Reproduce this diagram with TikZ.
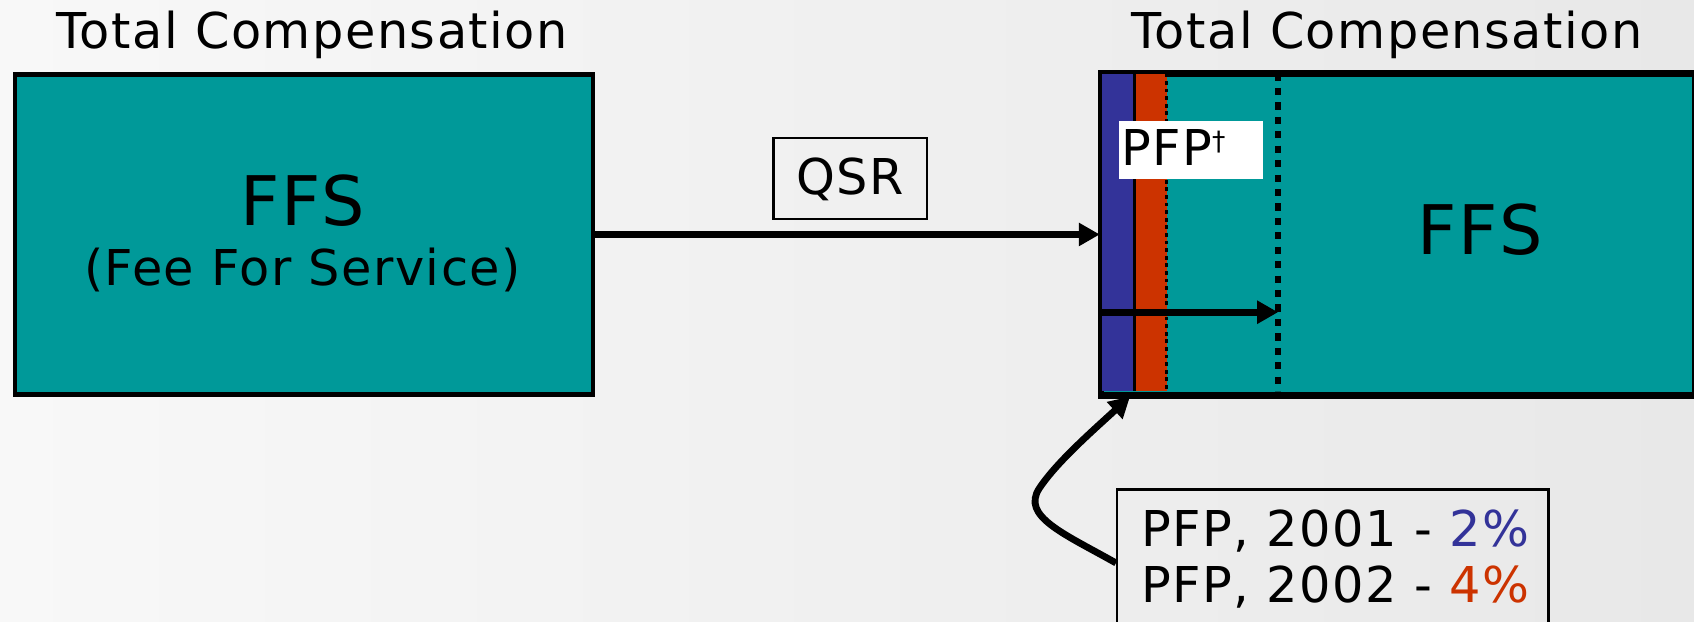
\documentclass[tikz,border=0pt]{standalone}
\usepackage{fontspec}
\setmainfont{DejaVu Sans}[LetterSpace=3]
\usetikzlibrary{arrows.meta}
\definecolor{tealbox}{HTML}{009999}
\definecolor{pfpblue}{HTML}{333399}
\definecolor{pfpred}{HTML}{CC3300}
\definecolor{bgL}{HTML}{F8F8F8}
\definecolor{bgR}{HTML}{E8E8E8}
\tikzset{
  bigbox/.style={draw=black, line width=1.1pt, fill=tealbox, anchor=north west, inner sep=0pt},
  lbl/.style={font=\fontsize{13}{15}\selectfont, anchor=base, inner sep=0pt},
  biglbl/.style={font=\fontsize{18}{20}\selectfont, anchor=base, inner sep=0pt},
  thinbox/.style={draw=black, line width=0.6pt, inner sep=0pt},
  conn/.style={line width=1.8pt, -{Triangle[length=5.5pt,width=5.8pt]}},
  bigdots/.style={line width=1.6pt, dash pattern=on 1.9pt off 1.9pt},
  smalldots/.style={line width=0.7pt, dash pattern=on 1pt off 1pt},
}
\begin{document}
\begin{tikzpicture}[x=0.01cm,y=-0.01cm]
\useasboundingbox (0,0) rectangle (1568,575);
\clip (0,0) rectangle (1568,575);
\shade[left color=bgL,right color=bgR] (0,0) rectangle (1568,575);

% titles
\node[lbl] (titleL) at (289,45) {Total Compensation};
\node[lbl] (titleR) at (1284,45) {Total Compensation};

% left box
\node[bigbox, minimum width=5.35cm, minimum height=2.96cm] (ffsL) at (12,67) {};
\node[biglbl] (ffsLtxt) at (280,209) {FFS};
\node[lbl] (feeTxt) at (280,264) {(Fee For Service)};

% right box
\node[bigbox, minimum width=5.48cm, minimum height=2.96cm] (rbox) at (1018,67) {};
\fill[pfpblue] (1019,68) rectangle (1050,362);
\fill[pfpred] (1050,68) rectangle (1080,362);
\draw[line width=0.9pt] (1050,68) -- (1050,362);
\draw[smalldots] (1080,68) -- (1080,362);
\draw[bigdots] (1183,68) -- (1183,362);
\draw[line width=1.1pt] (rbox.north west) rectangle (rbox.south east);
\node[biglbl] (ffsRtxt) at (1370,236) {FFS};

% PFP dagger label
\node[fill=white, anchor=north west, minimum width=1.33cm, minimum height=0.54cm, inner sep=0pt] (pfpbox) at (1035,111) {};
\node[lbl, anchor=base west] (pfptxt) at (1037,153) {PFP{\fontsize{7}{7}\selectfont\raisebox{1ex}{†}}};

% QSR
\node[thinbox, minimum width=1.42cm, minimum height=0.75cm] (qsr) at (787,165) {};
\node[lbl] (qsrtxt) at (787,180) {QSR};

% main arrow
\draw[conn] (ffsL.east) -- (rbox.west);

% inner arrow
\coordinate (inS) at (1019,289);
\coordinate (inE) at (1183,289);
\draw[conn] (inS) -- (inE);

% note box
\node[thinbox, anchor=north west, minimum width=3.99cm, minimum height=1.36cm] (note) at (1033,452) {};
\node[lbl, anchor=base west] (l1) at (1056,506) {PFP, 2001 - \textcolor{pfpblue}{2\%}};
\node[lbl, anchor=base west] (l2) at (1056,558) {PFP, 2002 - \textcolor{pfpred}{4\%}};

% curved arrow
\coordinate (ct) at (1046,367);
\draw[conn] (note.west) .. controls (985,494) and (945,478) .. (962,452) .. controls (978,428) and (1010,400) .. (ct);
\end{tikzpicture}
\end{document}
